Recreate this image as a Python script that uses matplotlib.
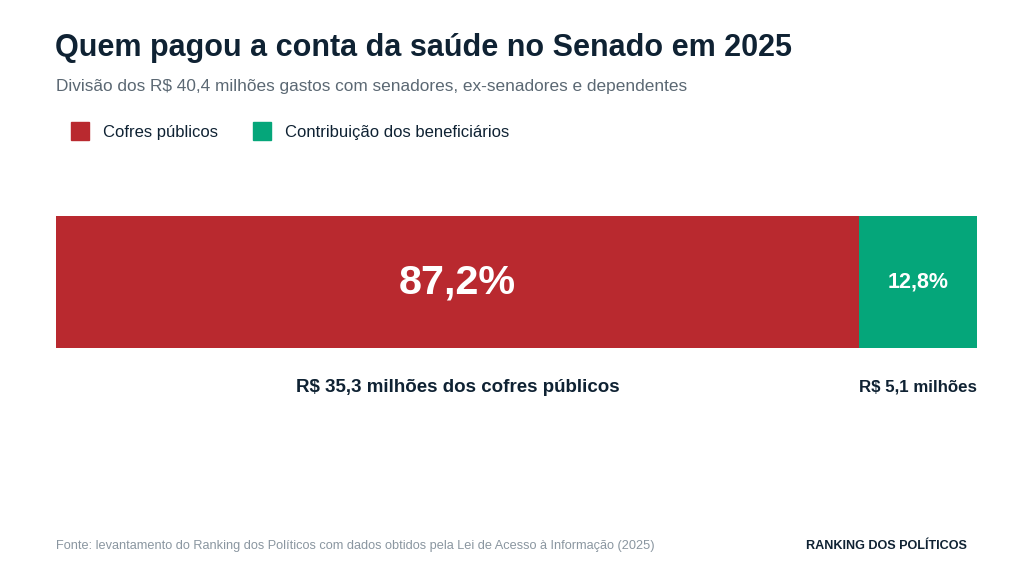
import matplotlib.pyplot as plt
from matplotlib.patches import Rectangle

# dados
categorias = ['Cofres públicos', 'Contribuição dos beneficiários']
percentuais = [87.2, 12.8]
rotulos_pct = ['87,2%', '12,8%']
rotulos_valor = ['R$ 35,3 milhões dos cofres públicos', 'R$ 5,1 milhões']
cores = ['#b9292f', '#05a67a']

plt.rcParams['font.family'] = ['Liberation Sans', 'DejaVu Sans']
escuro = '#0f2233'

fig = plt.figure(figsize=(10.24, 5.76), dpi=100)
W, H = 1024, 576

fig.text(55 / W, 1 - 48 / H, 'Quem pagou a conta da saúde no Senado em 2025',
         fontsize=22, fontweight='bold', color=escuro, va='center', ha='left')
fig.text(56 / W, 1 - 86 / H,
         'Divisão dos R$ 40,4 milhões gastos com senadores, ex-senadores e dependentes',
         fontsize=12.4, color='#5b6873', va='center', ha='left')

# legenda manual
leg_x = [71, 253]
for x, cat, cor in zip(leg_x, categorias, cores):
    fig.patches.append(Rectangle((x / W, 1 - 140 / H), 18 / W, 18 / H,
                                 transform=fig.transFigure, color=cor))
    fig.text((x + 32) / W, 1 - 132 / H, cat, fontsize=12, color=escuro,
             va='center', ha='left')

ax = fig.add_axes([56 / W, 1 - 348 / H, 921 / W, 132 / H])
esq = 0
for i, (p, cor) in enumerate(zip(percentuais, cores)):
    ax.barh(0, p, left=esq, height=1, color=cor)
    tam = 29.8 if i == 0 else 15.5
    ax.text(esq + p / 2, 0, rotulos_pct[i], color='white', fontsize=tam,
            fontweight='bold', ha='center', va='center')
    esq += p
ax.set_xlim(0, 100)
ax.set_ylim(-0.5, 0.5)
ax.axis('off')

fig.text((56 + 921 * percentuais[0] / 200) / W, 1 - 387 / H, rotulos_valor[0],
         fontsize=13.5, fontweight='bold', color=escuro, ha='center', va='center')
fig.text(977 / W, 1 - 387 / H, rotulos_valor[1],
         fontsize=12.2, fontweight='bold', color=escuro, ha='right', va='center')

fig.text(56 / W, 1 - 546 / H,
         'Fonte: levantamento do Ranking dos Políticos com dados obtidos pela Lei de Acesso à Informação (2025)',
         fontsize=9.2, color='#8a96a0', ha='left', va='center',
         family=['Liberation Sans Narrow', 'Liberation Sans'])
fig.text(967 / W, 1 - 546 / H, 'RANKING DOS POLÍTICOS', fontsize=9.1,
         fontweight='bold', color=escuro, ha='right', va='center',
         family=['Liberation Sans Narrow', 'Liberation Sans'])

fig.savefig('out.png', dpi=100, facecolor='white')
